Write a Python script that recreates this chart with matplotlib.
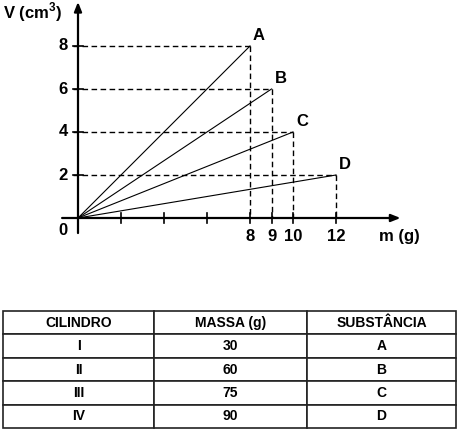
import matplotlib
matplotlib.use("Agg")
import matplotlib.pyplot as plt

plt.rcParams["font.family"] = ["Liberation Sans", "DejaVu Sans"]
plt.rcParams["font.weight"] = "bold"

# dados do grafico V x m
letras = ["A", "B", "C", "D"]
massas = [8, 9, 10, 12]
volumes = [8, 6, 4, 2]
x_ticks = [2, 4, 6, 8, 9, 10, 12]
x_labels = ["", "", "", "8", "9", "10", "12"]
y_ticks = [2, 4, 6, 8]

# dados da tabela
colunas = ["CILINDRO", "MASSA (g)", "SUBSTÂNCIA"]
cilindros = ["I", "II", "III", "IV"]
massas_tab = ["30", "60", "75", "90"]
substancias = ["A", "B", "C", "D"]

W, H = 458, 429
fig = plt.figure(figsize=(W / 100, H / 100), dpi=100)

# eixo cobrindo a figura toda, 21.5 px por unidade, origem em (78, 218) px
px = 21.5
ox, oy = 78, 218
ax = fig.add_axes([0, 0, 1, 1])
ax.set_xlim(-ox / px, (W - ox) / px)
ax.set_ylim(-(H - oy) / px, oy / px)
ax.axis("off")

# eixos com seta
ax.annotate("", xy=(15.0, 0), xytext=(-0.74, 0),
            arrowprops=dict(arrowstyle="-|>,head_length=0.55,head_width=0.22",
                            lw=1.6, color="black", shrinkA=0, shrinkB=0))
ax.annotate("", xy=(0, 10.05), xytext=(0, -0.7),
            arrowprops=dict(arrowstyle="-|>,head_length=0.55,head_width=0.22",
                            lw=1.6, color="black", shrinkA=0, shrinkB=0))

t = 5 / px
for xt, lab in zip(x_ticks, x_labels):
    ax.plot([xt, xt], [-t, t], color="black", lw=1.2)
    if lab:
        ax.text(xt, -0.86, lab, ha="center", va="center", fontsize=12)
for yt in y_ticks:
    ax.plot([-t, t], [yt, yt], color="black", lw=1.2)
    ax.text(-0.47, yt, str(yt), ha="right", va="center", fontsize=12)
ax.text(-0.47, -0.56, "0", ha="right", va="center", fontsize=12)

ax.text(-3.49, 9.58, r"V (cm$^\mathregular{3}$)", ha="left", va="center", fontsize=12)
ax.text(14.0, -0.84, "m (g)", ha="left", va="center", fontsize=12)

# retas e linhas tracejadas
for l, m, v in zip(letras, massas, volumes):
    ax.plot([0, m], [0, v], color="black", lw=0.8)
    ax.plot([-t, m], [v, v], color="black", lw=1.0, dashes=(4, 2.5))
    ax.plot([m, m], [v, 0], color="black", lw=1.0, dashes=(4, 2.5))
    ax.text(m + 0.42, v + 0.47, l, ha="center", va="center", fontsize=12)

# tabela
tab_ax = fig.add_axes([3 / W, 1 / H, 453 / W, 117 / H])
tab_ax.axis("off")
linhas = [list(r) for r in zip(cilindros, massas_tab, substancias)]
tab = tab_ax.table(cellText=linhas, colLabels=colunas, cellLoc="center",
                   colWidths=[151 / 453, 153 / 453, 149 / 453],
                   bbox=[0, 0, 1, 1])
tab.auto_set_font_size(False)
for (r, c), cell in tab.get_celld().items():
    cell.set_linewidth(1.2)
    cell.set_edgecolor("#222222")
    cell.get_text().set_fontsize(10)
    cell.get_text().set_fontweight("bold")

fig.savefig("out.png", dpi=100)
